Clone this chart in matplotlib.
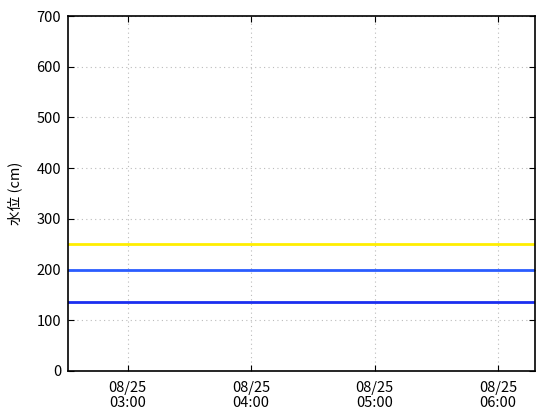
import matplotlib
matplotlib.use('Agg')
import matplotlib.pyplot as plt
import matplotlib.dates as mdates
from datetime import datetime

plt.rcParams['font.family'] = ['Noto Sans CJK JP', 'DejaVu Sans']

# data
x_start = datetime(2023, 8, 25, 2, 31)
x_end = datetime(2023, 8, 25, 6, 18)
levels = [250, 200, 137]
level_colors = ['#ffee00', '#2a5cff', '#1a2ef0']
y_ticks = [0, 100, 200, 300, 400, 500, 600, 700]
x_ticks = [datetime(2023, 8, 25, h, 0) for h in [3, 4, 5, 6]]

fig = plt.figure(figsize=(5.6, 4.2), dpi=100)
ax = fig.add_axes([68 / 560, 1 - 371 / 420, (535 - 68) / 560, (371 - 16) / 420])

for lv, c in zip(levels, level_colors):
    ax.plot([x_start, x_end], [lv, lv], color=c, linewidth=2)

ax.set_xlim(x_start, x_end)
ax.set_ylim(0, 700)
ax.set_yticks(y_ticks)
ax.set_xticks(x_ticks)
ax.xaxis.set_major_formatter(mdates.DateFormatter('%m/%d\n%H:%M'))
ax.tick_params(direction='in', top=True, right=True, labelsize=10.5, length=4,
               color='black', pad=5)
ax.tick_params(axis='x', pad=7)
for lbl in ax.get_xticklabels():
    lbl.set_linespacing(1.15)
ax.grid(True, linestyle=(0, (1, 3)), color='#bbbbbb', linewidth=0.8)
ax.set_ylabel('水位 (cm)', fontsize=10.5, labelpad=10)
for s in ax.spines.values():
    s.set_linewidth(1.2)

fig.savefig('out.png', dpi=100)
